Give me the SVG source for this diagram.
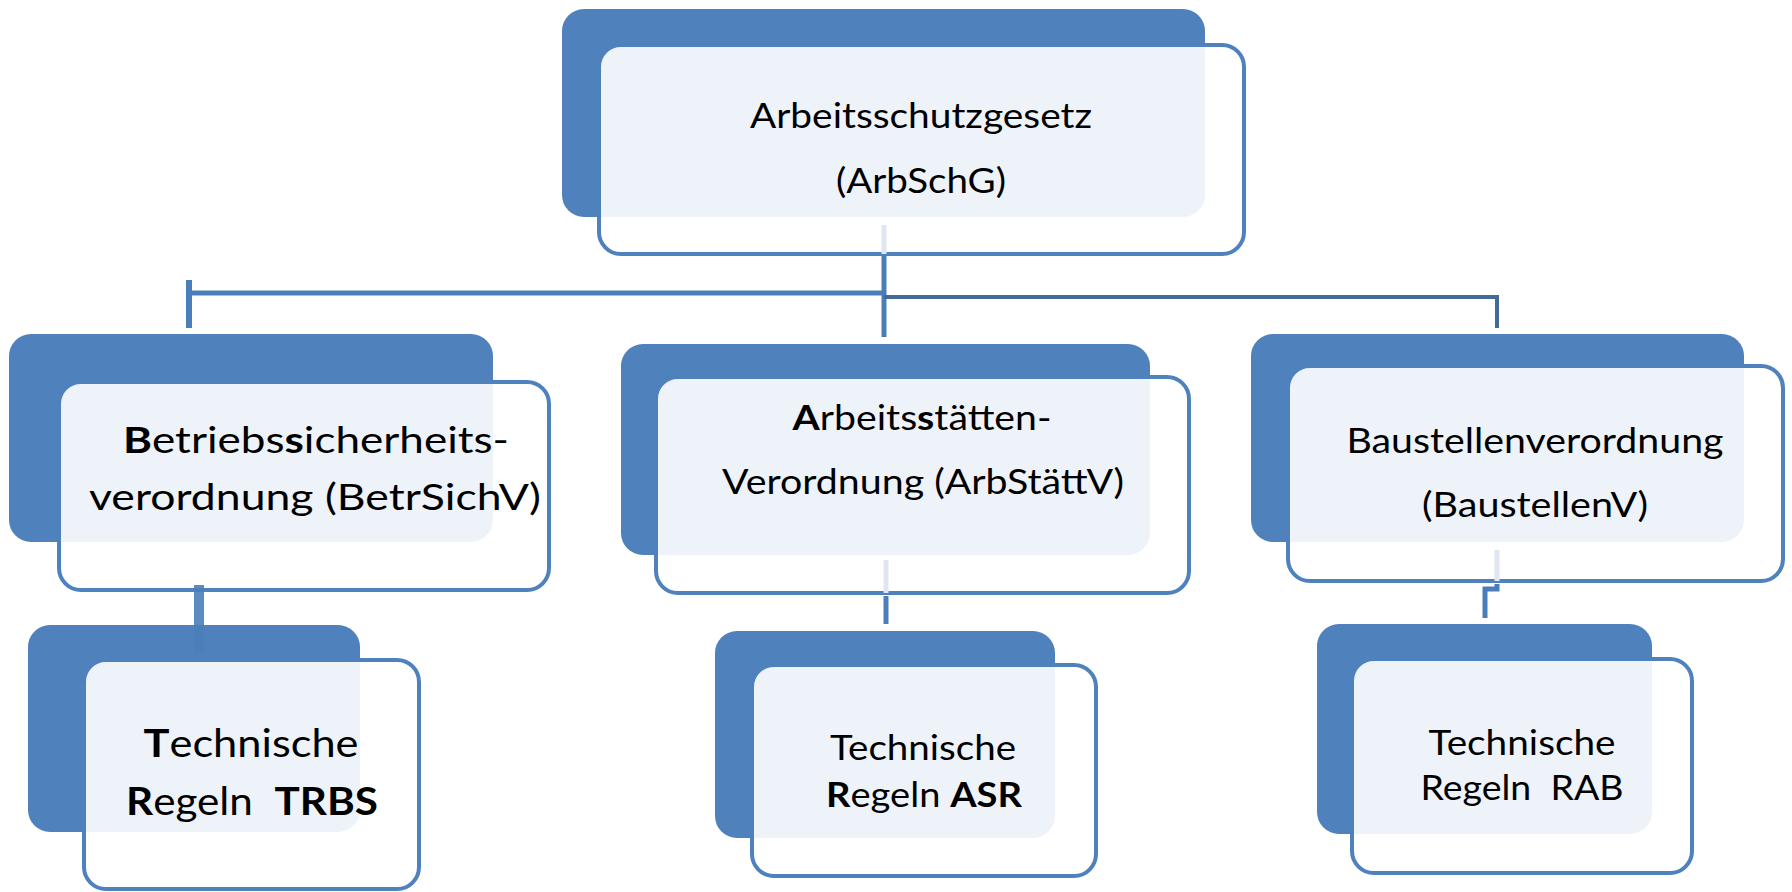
<svg xmlns="http://www.w3.org/2000/svg" width="1792" height="892" viewBox="0 0 1792 892">
<style>
.dark{fill:#4f81bd}
.light{fill:#ffffff;fill-opacity:0.9;stroke:#4f81bd;stroke-width:4}
.t{font-family:Lato,"Liberation Sans",sans-serif;fill:#000;text-anchor:middle;font-size:35px}
.b{font-weight:bold}
.c{fill:none;stroke:#4a7ebb;stroke-width:5}
.c2{fill:none;stroke:#41699b;stroke-width:4}
.faint{fill:none;stroke:#dfe6f1;stroke-width:5}
</style>
<rect width="1792" height="892" fill="#ffffff"/>

<g id="node-arbschg">
<rect class="dark" x="562" y="9" width="643" height="208" rx="22"/>
<rect class="light" x="599" y="45" width="645" height="209" rx="22"/>
<text class="t" x="921" y="128" textLength="342" lengthAdjust="spacingAndGlyphs">Arbeitsschutzgesetz</text>
<text class="t" x="921" y="193" textLength="170" lengthAdjust="spacingAndGlyphs">(ArbSchG)</text>
</g>

<g id="node-betrsichv">
<rect class="dark" x="9" y="334" width="484" height="208" rx="22"/>
<rect class="light" x="59" y="382" width="490" height="208" rx="22"/>
<text class="t" x="316" y="453" style="font-size:37px" textLength="386" lengthAdjust="spacingAndGlyphs"><tspan class="b">B</tspan>etriebs<tspan class="b">s</tspan>icherheits-</text>
<text class="t" x="315" y="510" style="font-size:37px" textLength="452" lengthAdjust="spacingAndGlyphs">verordnung (BetrSichV)</text>
</g>

<g id="node-arbstaettv">
<rect class="dark" x="621" y="344" width="529" height="211" rx="22"/>
<rect class="light" x="656" y="377" width="533" height="216" rx="22"/>
<text class="t" x="922" y="430" textLength="259" lengthAdjust="spacingAndGlyphs"><tspan class="b">A</tspan>rbeits<tspan class="b">s</tspan>tätten-</text>
<text class="t" x="923" y="494" textLength="402" lengthAdjust="spacingAndGlyphs">Verordnung (ArbStättV)</text>
</g>

<g id="node-baustellenv">
<rect class="dark" x="1251" y="334" width="493" height="208" rx="22"/>
<rect class="light" x="1288" y="366" width="495" height="215" rx="22"/>
<text class="t" x="1535" y="453" textLength="377" lengthAdjust="spacingAndGlyphs">Baustellenverordnung</text>
<text class="t" x="1535" y="517" textLength="226" lengthAdjust="spacingAndGlyphs">(BaustellenV)</text>
</g>

<g id="node-trbs">
<rect class="dark" x="28" y="625" width="332" height="207" rx="22"/>
<rect class="light" x="84" y="660" width="335" height="229" rx="22"/>
<text class="t" x="251" y="757" style="font-size:39px" textLength="215" lengthAdjust="spacingAndGlyphs"><tspan class="b">T</tspan>echnische</text>
<text class="t" x="252" y="815" style="font-size:39px" xml:space="preserve" textLength="252" lengthAdjust="spacingAndGlyphs"><tspan class="b">R</tspan>egeln  <tspan class="b">TRBS</tspan></text>
</g>

<g id="node-asr">
<rect class="dark" x="715" y="631" width="340" height="207" rx="22"/>
<rect class="light" x="752" y="665" width="344" height="211" rx="22"/>
<text class="t" x="923" y="760" textLength="186" lengthAdjust="spacingAndGlyphs">Technische</text>
<text class="t" x="924" y="807" xml:space="preserve" textLength="196" lengthAdjust="spacingAndGlyphs"><tspan class="b">R</tspan>egeln <tspan class="b">ASR</tspan></text>
</g>

<g id="node-rab">
<rect class="dark" x="1317" y="624" width="335" height="210" rx="22"/>
<rect class="light" x="1352" y="659" width="340" height="214" rx="22"/>
<text class="t" x="1522" y="755" textLength="187" lengthAdjust="spacingAndGlyphs">Technische</text>
<text class="t" x="1522" y="800" xml:space="preserve" textLength="203" lengthAdjust="spacingAndGlyphs">Regeln  RAB</text>
</g>

<g id="connectors">
<path class="faint" d="M884,225 V254"/>
<path class="c" d="M884,256 V337"/>
<path class="c" d="M884,293 H189"/>
<path class="c" style="stroke-width:6" d="M189,280 V328"/>
<path class="c2" d="M884,297 H1497 V328"/>
<path class="c" style="stroke-width:10;stroke-opacity:0.9" d="M199,585 V652"/>
<path class="faint" d="M886,560 V593"/>
<path class="c" d="M886,596 V624"/>
<path class="faint" d="M1497,550 V581"/>
<path class="c" d="M1497,584 V589 H1485 V618"/>
</g>
</svg>
